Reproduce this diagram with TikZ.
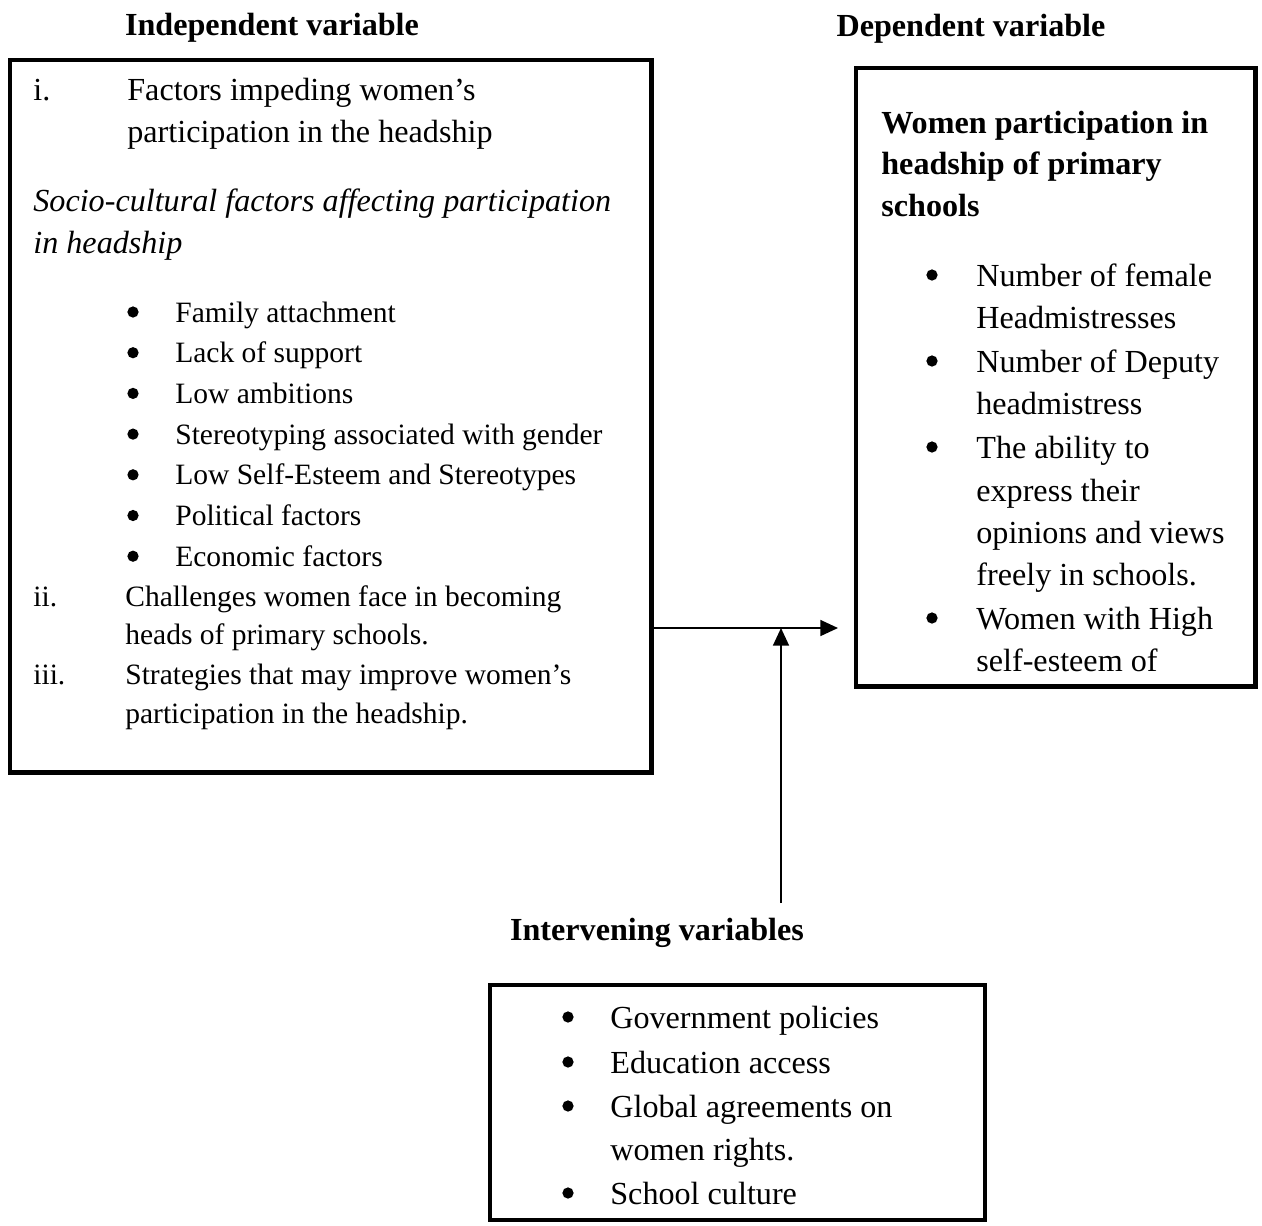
\documentclass[tikz,border=0pt]{standalone}
\usepackage{fontspec}
\setmainfont{Liberation Serif}
\usetikzlibrary{arrows.meta}

\begin{document}
\begin{tikzpicture}[x=0.02cm,y=-0.02cm,
	txt/.style={anchor=base west,inner sep=0,font=\fontsize{18.3}{22}\selectfont},
	sml/.style={txt,font=\fontsize{16.8}{20}\selectfont},
	hd/.style={anchor=base,inner sep=0,font=\fontsize{18.3}{22}\selectfont\bfseries},
	varbox/.style={draw,line width=2.8pt,inner sep=0,outer sep=0,anchor=north west},
	link/.style={line width=1.1pt,-{Triangle[length=10pt,width=9pt]}}]
	\useasboundingbox (0,0) rectangle (1262,1225);

	%BOXES
	\node[varbox,minimum width=12.84cm,minimum height=14.26cm] (indep) at (10,60) {};
	\node[varbox,minimum width=8cm,minimum height=12.38cm] (dep) at (856,68) {};
	\node[varbox,line width=2.4pt,minimum width=9.9cm,minimum height=4.7cm] (interv) at (490,985) {};

	%TITLES
	\node[hd] (indeptitle) at (272,35) {Independent variable};
	\node[hd] (deptitle) at (971,36) {Dependent variable};
	\node[hd] (intervtitle) at (657,940) {Intervening variables};

	%LEFT BOX TEXT
	\node[txt] (ione) at (33,100) {i.};
	\node[txt] (impede1) at (127,100) {Factors impeding women’s};
	\node[txt] (impede2) at (127,142) {participation in the headship};
	\node[txt,font=\fontsize{18.3}{22}\selectfont\itshape] (socio1) at (33,211) {Socio-cultural factors affecting participation};
	\node[txt,font=\fontsize{18.3}{22}\selectfont\itshape] (socio2) at (33,253) {in headship};
	\foreach \t [count=\i] in {Family attachment,Lack of support,Low ambitions,Stereotyping associated with gender,Low Self-Esteem and Stereotypes,Political factors,Economic factors}{
		\fill (133,{271.3+40.7*\i}) circle (3.2pt);
		\node[sml] (factor\i) at (175,{281.3+40.7*\i}) {\t};
	}
	\node[sml] (itwo) at (33,606) {ii.};
	\node[sml] (chall1) at (125,606) {Challenges women face in becoming};
	\node[sml] (chall2) at (125,644) {heads of primary schools.};
	\node[sml] (ithree) at (33,684) {iii.};
	\node[sml] (strat1) at (125,684) {Strategies that may improve women’s};
	\node[sml] (strat2) at (125,723) {participation in the headship.};

	%RIGHT BOX TEXT
	\node[txt,font=\fontsize{18.3}{22}\selectfont\bfseries] (women1) at (881,133) {Women participation in};
	\node[txt,font=\fontsize{18.3}{22}\selectfont\bfseries] (women2) at (881,174) {headship of primary};
	\node[txt,font=\fontsize{18.3}{22}\selectfont\bfseries] (women3) at (881,216) {schools};
	\foreach \y in {286,372,458,629}
		\fill (932,\y-11) circle (3.2pt);
	\foreach \t/\y [count=\i] in {Number of female/286,Headmistresses/328,Number of Deputy/372,headmistress/414,The ability to/458,express their/501,opinions and views/543,freely in schools./585,Women with High/629,self-esteem of/671}
		\node[txt] (measure\i) at (976,\y) {\t};

	%BOTTOM BOX TEXT
	\foreach \y in {1028,1073,1117,1204}
		\fill (568,\y-11) circle (3.2pt);
	\foreach \t/\y [count=\i] in {Government policies/1028,Education access/1073,Global agreements on/1117,women rights./1160,School culture/1204}
		\node[txt] (interv\i) at (610,\y) {\t};

	%ARROWS
	\coordinate (meet) at (781,628);
	\coordinate (ivfoot) at (781,903);
	\draw[link,shorten >=0.36cm] (indep.east |- meet) -- (dep.west |- meet);
	\draw[link] (ivfoot) -- (meet);
\end{tikzpicture}
\end{document}
